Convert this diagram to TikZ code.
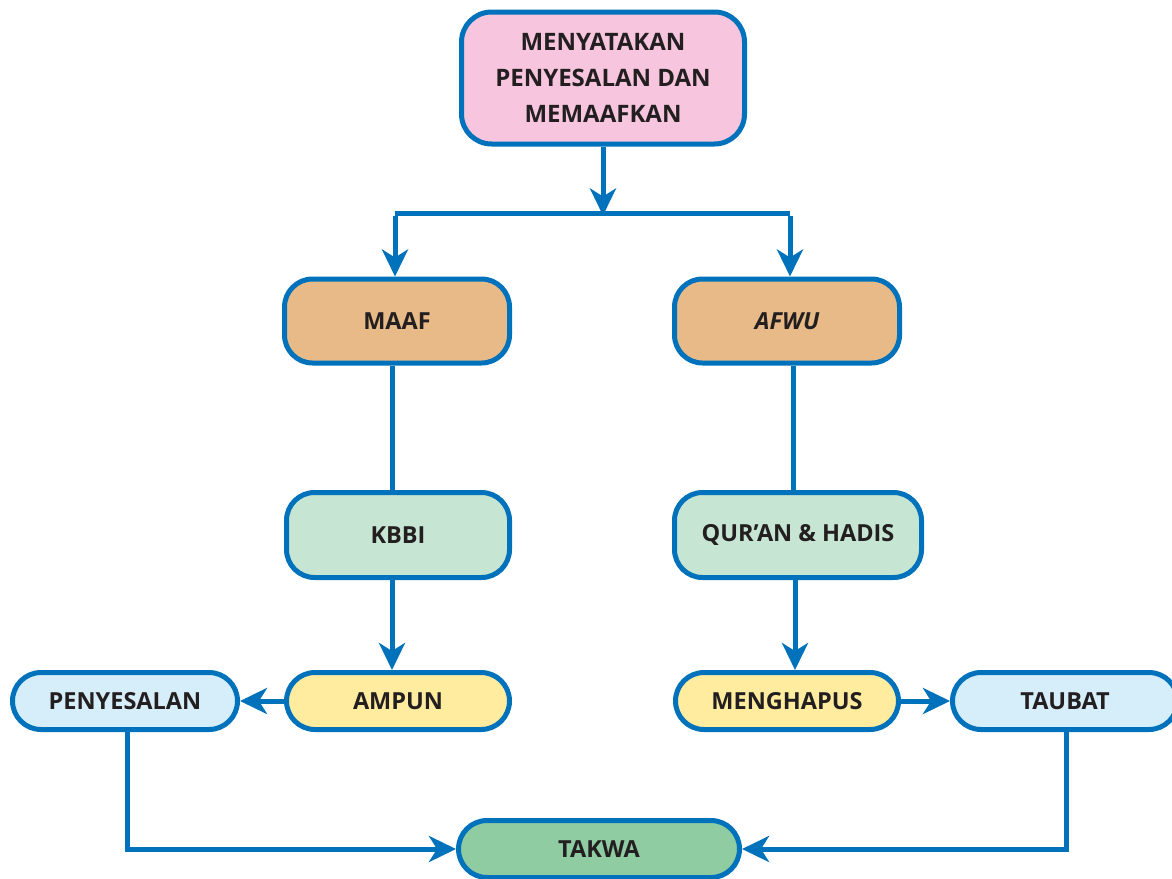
\documentclass[tikz,border=0pt]{standalone}
\usepackage{fontspec}
\setmainfont{Open Sans}
\usetikzlibrary{arrows.meta,positioning}
\definecolor{bl}{HTML}{0072BC}
\definecolor{txt}{HTML}{231F20}
\definecolor{pinkf}{HTML}{F7C5DD}
\definecolor{tanf}{HTML}{E8BA88}
\definecolor{mintf}{HTML}{C6E5D2}
\definecolor{yelf}{HTML}{FFEC9F}
\definecolor{skyf}{HTML}{D6EEFA}
\definecolor{grnf}{HTML}{90CCA1}
\tikzset{
  box/.style={draw=bl, line width=5pt, text=txt, font=\fontsize{23.5}{36}\selectfont\bfseries, align=center, inner sep=0pt},
  rbox/.style={box, rounded corners=28pt, minimum width=225pt, minimum height=84pt},
  pill/.style={box, rounded corners=28.5pt, minimum width=223pt, minimum height=57pt},
  conn/.style={draw=bl, line width=5pt},
  arr/.style={conn, -{Stealth[length=27pt,width=26pt,inset=8pt]}}
}
\begin{document}
\begin{tikzpicture}[x=1pt,y=-1pt]
\useasboundingbox (0,0) rectangle (1172,878);
\node[box, font=\fontsize{24}{36}\selectfont\bfseries, rounded corners=30pt, minimum width=283pt, minimum height=132pt, fill=pinkf] (top) at (603,78) {MENYATAKAN\\PENYESALAN DAN\\MEMAAFKAN};
\node[rbox, fill=tanf] (maaf) at (397,321) {MAAF};
\node[rbox, fill=tanf] (afwu) at (787,321) {\itshape AFWU};
\node[rbox, fill=mintf, minimum width=223pt, minimum height=85pt] (kbbi) at (398,535) {KBBI};
\node[rbox, fill=mintf, minimum width=247pt, minimum height=85pt] (quran) at (798,535) {QUR’AN \& HADIS};
\node[pill, fill=yelf] (ampun) at (398,701) {AMPUN};
\node[pill, fill=skyf, minimum width=225pt] (peny) at (125,701) {PENYESALAN};
\node[pill, fill=yelf] (hapus) at (787,701) {MENGHAPUS};
\node[pill, fill=skyf, minimum width=225pt] (taubat) at (1065,701) {TAUBAT};
\node[pill, fill=grnf, minimum width=281pt] (takwa) at (599,849) {TAKWA};
\coordinate (j) at (603,213);
\coordinate (jl) at (395,213);
\coordinate (jr) at (790,213);
\draw[arr] (top.south) -- ([yshift=-2.5pt]j);
\draw[conn] (jl) -- (jr);
\draw[arr] ([yshift=-2.5pt]jl) -- (jl |- maaf.north);
\draw[arr] ([yshift=-2.5pt]jr) -- (jr |- afwu.north);
\draw[conn] ([xshift=-5pt]maaf.south) -- ([xshift=-5pt]maaf.south |- kbbi.north);
\draw[conn] ([xshift=6pt]afwu.south) -- ([xshift=6pt]afwu.south |- quran.north);
\draw[arr] ([xshift=-6pt]kbbi.south) -- ([xshift=-6pt]kbbi.south |- ampun.north);
\draw[arr] ([xshift=-3pt]quran.south) -- ([xshift=-3pt]quran.south |- hapus.north);
\draw[arr] (ampun.west) -- (peny.east);
\draw[arr] (hapus.east) -- (taubat.west);
\draw[arr] ([xshift=2pt]peny.south) |- (takwa.west);
\draw[arr] ([xshift=1pt]taubat.south) |- (takwa.east);
\end{tikzpicture}
\end{document}
